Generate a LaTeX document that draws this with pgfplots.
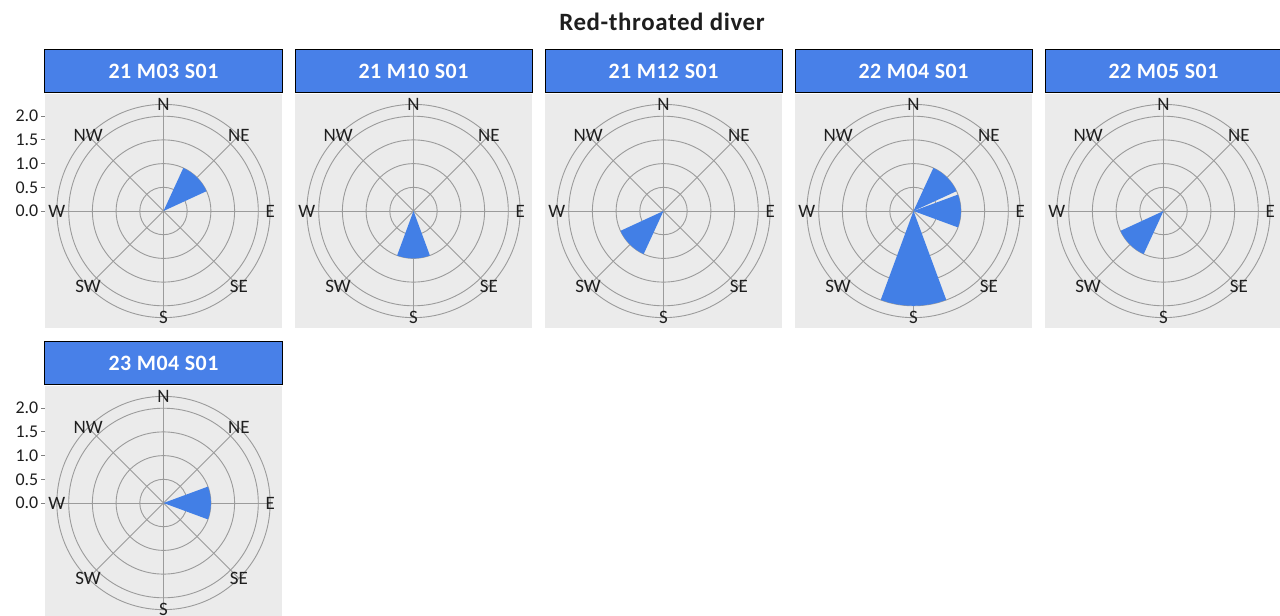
\documentclass[border=0pt]{standalone}
\usepackage{pgfplots}
\pgfplotsset{compat=1.18}
\usepackage{fontspec}
\setmainfont{Carlito}
\newfontfamily\titlefont[LetterSpace=2.5]{Carlito}
\definecolor{stripblue}{RGB}{72,128,232}
\definecolor{wedgeblue}{RGB}{66,127,230}
\definecolor{panelbg}{RGB}{235,235,235}
\definecolor{gridc}{RGB}{155,155,155}
\definecolor{labc}{RGB}{30,30,30}

\pgfplotsset{
 rose/.style={
  scale only axis, width=237bp, height=234bp,
  xmin=-2.5,xmax=2.5,ymin=-2.468,ymax=2.468,
  axis line style={draw=none},
  xtick=\empty, ytick=\empty,
  axis background/.style={fill=panelbg},
  clip=false,
  anchor=north west,
 },
 roseticks/.style={
  ytick={0,0.5,1,1.5,2}, yticklabels={0.0,0.5,1.0,1.5,2.0},
  ytick pos=left, tick align=outside, major tick length=4bp,
  ytick style={draw=gray, line width=0.8bp},
  yticklabel style={font=\fontsize{18}{18}\selectfont, text=labc, inner sep=2.5bp},
 },
 wedge/.style={fill=wedgeblue, draw=none, data cs=polar, forget plot},
}
\tikzset{
 strip/.style={fill=stripblue, draw=black, line width=1bp, minimum width=237bp,
   minimum height=43bp, inner sep=0pt, anchor=south, yshift=1bp, text=white,
   font=\titlefont\bfseries\fontsize{22}{22}\selectfont},
 dirlab/.style={font=\fontsize{19}{19}\selectfont, text=labc, inner sep=0pt},
}
\newcommand{\rosegrid}{%
 \draw[gridc, line width=0.9bp] (axis cs:0,0) circle[radius=23.7bp];
 \draw[gridc, line width=0.9bp] (axis cs:0,0) circle[radius=47.4bp];
 \draw[gridc, line width=0.9bp] (axis cs:0,0) circle[radius=71.1bp];
 \draw[gridc, line width=0.9bp] (axis cs:0,0) circle[radius=94.8bp];
 \draw[gridc, line width=0.9bp] (axis cs:0,0) circle[radius=106.65bp];
 \draw[gridc, line width=0.9bp] (axis cs:-2.25,0) -- (axis cs:2.25,0);
 \draw[gridc, line width=0.9bp] (axis cs:0,-2.25) -- (axis cs:0,2.25);
 \draw[gridc, line width=0.9bp] (axis cs:-1.591,-1.591) -- (axis cs:1.591,1.591);
 \draw[gridc, line width=0.9bp] (axis cs:-1.591,1.591) -- (axis cs:1.591,-1.591);
}
\newcommand{\roselabels}{%
 \node[dirlab] at (axis cs:0,2.25) {N};
 \node[dirlab] at (axis cs:1.591,1.591) {NE};
 \node[dirlab] at (axis cs:2.25,0) {E};
 \node[dirlab] at (axis cs:1.591,-1.591) {SE};
 \node[dirlab] at (axis cs:0,-2.25) {S};
 \node[dirlab] at (axis cs:-1.591,-1.591) {SW};
 \node[dirlab] at (axis cs:-2.25,0) {W};
 \node[dirlab] at (axis cs:-1.591,1.591) {NW};
}

\begin{document}
\begin{tikzpicture}
\fill[white] (0,0) rectangle (1280bp,-616bp);
\useasboundingbox (0,0) rectangle (1280bp,-616bp);
\node[font=\titlefont\bfseries\fontsize{25}{25}\selectfont, text=labc] at (662bp,-22bp) {Red-throated diver};

% Panel 1: 21 M03 S01
\begin{axis}[rose, roseticks, at={(45bp,-94bp)}]
\rosegrid
\addplot[wedge] coordinates {(0,0) (24.75,1) (30,1) (35,1) (40,1) (45,1) (50,1) (55,1) (60,1) (65.25,1)};
\roselabels
\node[strip] at (rel axis cs:0.5,1) {21 M03 S01};
\end{axis}

% Panel 2: 21 M10 S01
\begin{axis}[rose, at={(295bp,-94bp)}]
\rosegrid
\addplot[wedge] coordinates {(0,0) (-110.25,1) (-105,1) (-100,1) (-95,1) (-90,1) (-85,1) (-80,1) (-75,1) (-69.75,1)};
\roselabels
\node[strip] at (rel axis cs:0.5,1) {21 M10 S01};
\end{axis}

% Panel 3: 21 M12 S01
\begin{axis}[rose, at={(545bp,-94bp)}]
\rosegrid
\addplot[wedge] coordinates {(0,0) (-155.25,1) (-150,1) (-145,1) (-140,1) (-135,1) (-130,1) (-125,1) (-120,1) (-114.75,1)};
\roselabels
\node[strip] at (rel axis cs:0.5,1) {21 M12 S01};
\end{axis}

% Panel 4: 22 M04 S01
\begin{axis}[rose, at={(795bp,-94bp)}]
\rosegrid
\addplot[wedge] coordinates {(0,0) (24.75,1) (30,1) (35,1) (40,1) (45,1) (50,1) (55,1) (60,1) (65.25,1)};
\addplot[wedge] coordinates {(0,0) (-20.25,1) (-15,1) (-10,1) (-5,1) (0,1) (5,1) (10,1) (15,1) (20.25,1)};
\addplot[wedge] coordinates {(0,0) (-110.25,2) (-105,2) (-100,2) (-95,2) (-90,2) (-85,2) (-80,2) (-75,2) (-69.75,2)};
\roselabels
\node[strip] at (rel axis cs:0.5,1) {22 M04 S01};
\end{axis}

% Panel 5: 22 M05 S01
\begin{axis}[rose, at={(1045bp,-94bp)}]
\rosegrid
\addplot[wedge] coordinates {(0,0) (-155.25,1) (-150,1) (-145,1) (-140,1) (-135,1) (-130,1) (-125,1) (-120,1) (-114.75,1)};
\roselabels
\node[strip] at (rel axis cs:0.5,1) {22 M05 S01};
\end{axis}

% Panel 6: 23 M04 S01
\begin{axis}[rose, roseticks, at={(45bp,-386bp)}]
\rosegrid
\addplot[wedge] coordinates {(0,0) (-20.25,1) (-15,1) (-10,1) (-5,1) (0,1) (5,1) (10,1) (15,1) (20.25,1)};
\roselabels
\node[strip] at (rel axis cs:0.5,1) {23 M04 S01};
\end{axis}
\end{tikzpicture}
\end{document}
